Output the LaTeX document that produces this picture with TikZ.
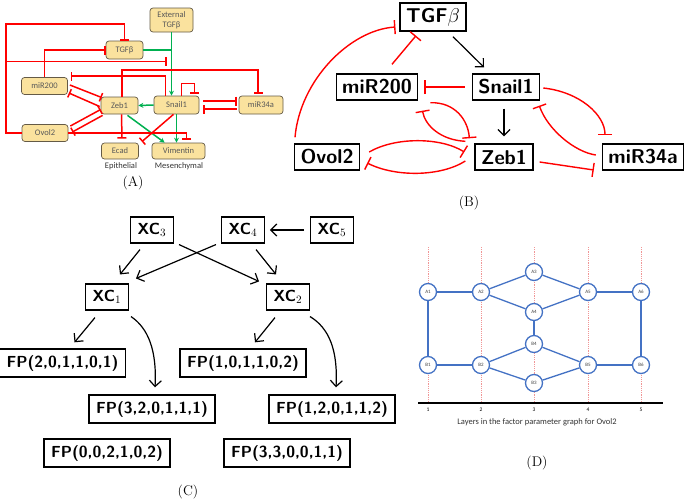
\documentclass[tikz,border=0pt]{standalone}
\usepackage{fix-cm}
\usepackage{fontspec}
\newfontfamily\calibri{Carlito}
\usetikzlibrary{arrows.meta,calc}

\definecolor{boxyellow}{RGB}{250,226,158}
\definecolor{boxedge}{RGB}{100,90,70}
\definecolor{actgreen}{RGB}{0,176,80}
\definecolor{inhred}{RGB}{255,0,0}
\definecolor{layerblue}{RGB}{68,114,196}
\definecolor{layerpink}{RGB}{240,150,150}

\begin{document}
\begin{tikzpicture}[x=1pt, y=-1pt,
  gene/.style={draw=boxedge, fill=boxyellow, rounded corners=3pt, line width=0.7pt, inner sep=1pt,
    text=black!65, font=\calibri\fontsize{8.5}{10}\selectfont, align=center},
  act/.style={actgreen, line width=1.5pt, -{Stealth[length=5pt,width=5pt]}},
  inh/.style={inhred, line width=1.5pt, -{Bar[width=9pt]}},
  geneB/.style={draw, line width=1.4pt, inner xsep=6pt, inner ysep=5pt, minimum height=26pt,
    font=\sffamily\bfseries\fontsize{20}{24}\selectfont},
  bact/.style={line width=1.2pt, -{Straight Barb[length=6pt,width=12pt]}},
  binh/.style={inhred, line width=1.4pt, -{Bar[width=14pt]}},
  xc/.style={draw, line width=1.4pt, inner xsep=7pt, inner ysep=6pt, minimum height=24pt,
    font=\sffamily\bfseries\fontsize{16}{19}\selectfont},
  cact/.style={line width=1.2pt, -{Straight Barb[length=6pt,width=12pt]}},
  layer/.style={circle, draw=layerblue, fill=white, line width=1.3pt, minimum size=17pt, inner sep=0pt,
    text=black!75, font=\calibri\fontsize{5}{6}\selectfont},
  layeredge/.style={layerblue, line width=1.3pt},
  caption/.style={font=\fontsize{14}{16}\selectfont}]
  \useasboundingbox (0,0) rectangle (685,501);

  % (A) network
  \node[gene, minimum width=43pt, minimum height=24pt] (extA) at (171.5,20) {External\\TGFβ};
  \node[gene, minimum width=37pt, minimum height=18pt] (tgfA) at (124.5,50) {TGFβ};
  \node[gene, minimum width=46pt, minimum height=17pt] (mirTwoA) at (44.5,86) {miR200};
  \node[gene, minimum width=37pt, minimum height=17pt] (zebA) at (119.5,105.5) {Zeb1};
  \node[gene, minimum width=45pt, minimum height=18pt] (snailA) at (176.5,105) {Snail1};
  \node[gene, minimum width=44pt, minimum height=18pt] (mirThreeA) at (261,105) {miR34a};
  \node[gene, minimum width=46pt, minimum height=17pt] (ovolA) at (45,133) {Ovol2};
  \node[gene, minimum width=37pt, minimum height=16pt] (ecadA) at (120,151) {Ecad};
  \node[gene, minimum width=53pt, minimum height=16pt] (vimA) at (178.5,151) {Vimentin};
  \node[font=\calibri\fontsize{8.5}{10}\selectfont, text=black!80] (epiA) at (121,166) {Epithelial};
  \node[font=\calibri\fontsize{8.5}{10}\selectfont, text=black!80] (mesA) at (179,166) {Mesenchymal};
  \coordinate (loopA) at (6.5,61.5);

  % green activation
  \draw[act] (extA) -- (extA |- snailA.north);
  \draw[actgreen, line width=1.5pt] (tgfA.east) -- (tgfA.east -| extA);
  \draw[act] (snailA.west) -- (zebA.east);
  \draw[act] ($(zebA.south)+(8,1)$) -- ($(vimA.north west)+(13,0)$);
  \draw[act] (snailA.south) -- (snailA.south |- vimA.north);

  % red inhibition
  \draw[inh] (ovolA.west) -- ++(-15.5,0) |- ($(tgfA.north)+(0,-16.5)$) -- (tgfA.north);
  \draw[inh] (loopA) -- ($(loopA -| extA)+(-5,0)$);
  \draw[inh] (mirTwoA.north) |- (tgfA.west);
  \draw[inh] ($(snailA.north)+(-11,0)$) |- ($(mirTwoA.east)+(3,-10)$);
  \draw[inh] ($(zebA.north)+(2.5,0)$) |- ($(mirThreeA.north)+(-3,-25.5)$) -- ($(mirThreeA.north)+(-3,-2)$);
  \draw[inh] ($(snailA.north)+(5,0)$) |- ($(snailA.north)+(18,-12)$) -- ($(snailA.north)+(18,-2)$);
  \draw[inh] ($(snailA.east)+(4,-4)$) -- ($(mirThreeA.west)+(-2,-4)$);
  \draw[inh] ($(mirThreeA.west)+(-2,4)$) -- ($(snailA.east)+(4,4)$);
  \draw[inh] ($(mirTwoA.east)+(2,-1)$) -- ($(zebA.west)+(1,-8)$);
  \draw[inh] ($(zebA.west)+(-1,1)$) -- ($(mirTwoA.east)+(1,7)$);
  \draw[inh] ($(ovolA.east)+(2,-7)$) -- ($(zebA.west)+(0,4)$);
  \draw[inh] ($(zebA.south west)+(2,1)$) -- ($(ovolA.east)+(4,-1)$);
  \draw[inh] (ovolA.east) -| ($(vimA.north)+(8,-3)$);
  \draw[inh] ($(zebA.south)+(2,0)$) -- ($(ecadA.north)+(2,-4)$);
  \draw[inh] ($(snailA.south)+(-3,0)$) -- ($(ecadA.north east)+(3,-1)$);
  \node[caption] (capA) at (133,183) {(A)};

  % (B) reduced network
  \node[geneB] (tgfB) at (433,17) {TGF$\beta$};
  \node[geneB] (mirTwoB) at (377,87) {miR200};
  \node[geneB] (snailB) at (506,87) {Snail1};
  \node[geneB] (ovolB) at (327,157) {Ovol2};
  \node[geneB] (zebB) at (504,157) {Zeb1};
  \node[geneB] (mirThreeB) at (643,157) {miR34a};

  \draw[bact] ($(tgfB.south)+(20,5)$) -- ($(snailB.north)+(-22,-6)$);
  \draw[bact] ($(snailB.south)+(-2,8)$) -- ($(zebB.north)+(0,-7)$);
  \draw[binh] ($(snailB.west)+(-7,0)$) -- ($(mirTwoB.east)+(6,0)$);
  \draw[binh] ($(mirTwoB.north)+(15,-9)$) -- ($(tgfB.south)+(-17,4)$);
  \draw[binh] ($(ovolB.north)+(-32,-6)$) .. controls (300,80) and (350,30) .. ($(tgfB.west)+(-4,10)$);
  \draw[binh] ($(mirTwoB.south east)+(12,2)$) .. controls (455,102) and (468,120) .. ($(zebB.north west)+(-5,-5)$);
  \draw[binh] ($(zebB.north west)+(-9,-2)$) .. controls (440,140) and (425,125) .. ($(mirTwoB.south east)+(4,10)$);
  \draw[binh] ($(ovolB.east)+(9,-5)$) .. controls (395,137) and (440,137) .. ($(zebB.west)+(-10,-5)$);
  \draw[binh] ($(zebB.west)+(-9,4)$) .. controls (440,177) and (395,177) .. ($(ovolB.east)+(7,6)$);
  \draw[binh] ($(zebB.east)+(6,5)$) -- ($(mirThreeB.west)+(-8,13)$);
  \draw[binh] ($(snailB.east)+(3,1)$) .. controls (580,92) and (605,115) .. ($(mirThreeB.north)+(-38,-8)$);
  \draw[binh] ($(mirThreeB.west)+(-6,-2)$) .. controls (575,152) and (548,130) .. ($(snailB.south east)+(-1,5)$);
  \node[caption] (capB) at (469,203) {(B)};

  % (C) XC and factor parameters
  \node[xc] (xcThree) at (152,230) {XC$_3$};
  \node[xc] (xcFour) at (243,230) {XC$_4$};
  \node[xc] (xcFive) at (332,230) {XC$_5$};
  \node[xc] (xcOne) at (107,297) {XC$_1$};
  \node[xc] (xcTwo) at (288,297) {XC$_2$};
  \node[xc] (fpA) at (62.5,363) {FP(2,0,1,1,0,1)};
  \node[xc] (fpB) at (243,363) {FP(1,0,1,1,0,2)};
  \node[xc] (fpC) at (152,409) {FP(3,2,0,1,1,1)};
  \node[xc] (fpD) at (332,409) {FP(1,2,0,1,1,2)};
  \node[xc] (fpE) at (107,453) {FP(0,0,2,1,0,2)};
  \node[xc] (fpF) at (287,453) {FP(3,3,0,0,1,1)};

  \draw[cact] ($(xcFive.west)+(-6,0)$) -- ($(xcFour.east)+(5,0)$);
  \draw[cact] ($(xcThree.south)+(-12,6)$) -- ($(xcOne.north)+(13,-9)$);
  \draw[cact] ($(xcThree.south east)+(5,1)$) -- ($(xcTwo.north west)+(-7,-2)$);
  \draw[cact] ($(xcFour.south west)+(-5,1)$) -- ($(xcOne.north east)+(7,-5)$);
  \draw[cact] ($(xcFour.south)+(13,6)$) -- ($(xcTwo.north)+(-12,-9)$);
  \draw[cact] ($(xcOne.south)+(-12,7)$) -- ($(fpA.north)+(12,-6)$);
  \draw[cact] ($(xcOne.south east)+(2,6)$) .. controls (148,328) and (157,350) .. ($(fpC.north)+(3,-7)$);
  \draw[cact] ($(xcTwo.south)+(-13,7)$) -- ($(fpB.north)+(12,-6)$);
  \draw[cact] ($(xcTwo.south east)+(0,6)$) .. controls (329,328) and (338,350) .. ($(fpD.north)+(4,-7)$);
  \node[caption] (capC) at (188,492) {(C)};

  % (D) layers of the factor parameter graph
  \foreach \x in {428,481,534,588,641}
    \draw[layerpink, dash pattern=on 1.2pt off 1pt, line width=0.7pt] (\x,247) -- (\x,402);
  \draw[line width=1.5pt] (418,403) -- (663,403);
  \foreach \x [count=\i] in {428,481,534,588,641}
    \node[font=\calibri\fontsize{5.5}{6}\selectfont] (tick\i) at (\x,410) {\i};
  \node[font=\calibri\fontsize{8.5}{10}\selectfont, text=black!80] (axisD) at (537,422) {Layers in the factor parameter graph for Ovol2};
  \foreach \n/\x/\y in {A1/428/292, A2/481/292, A3/534/272, A4/534/312, A5/588/292, A6/641/292,
                        B1/428/365, B2/481/365, B3/534/383, B4/534/344, B5/588/365, B6/641/365}
    \node[layer] (\n) at (\x,\y) {\n};
  \foreach \a/\b in {A1/A2, A2/A3, A2/A4, A3/A5, A4/A5, A5/A6, A1/B1, A6/B6, A4/B4,
                     B1/B2, B2/B4, B2/B3, B4/B5, B3/B5, B5/B6}
    \draw[layeredge] (\a) -- (\b);
  \node[caption] (capD) at (537,463) {(D)};
\end{tikzpicture}
\end{document}
